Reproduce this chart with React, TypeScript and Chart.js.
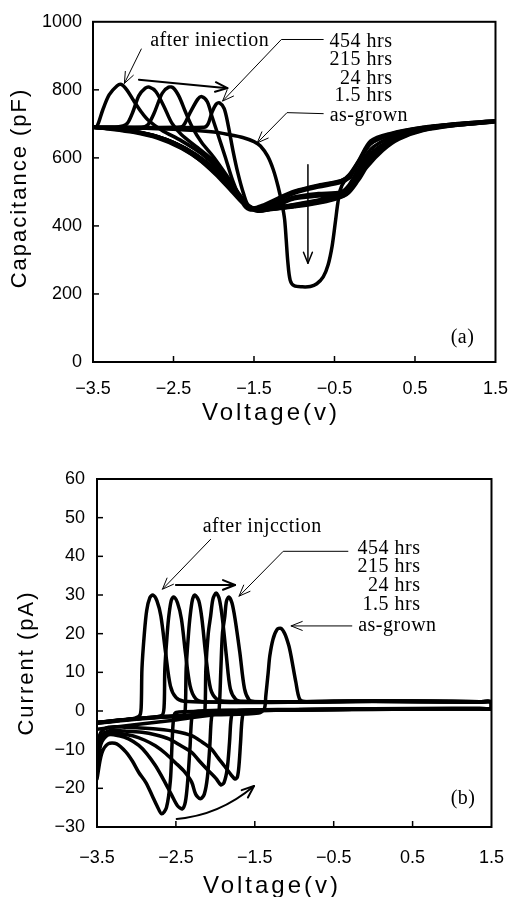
import React, { useEffect, useRef } from 'react';
import { Chart, registerables } from 'chart.js';

Chart.register(...registerables);

// ---------- series names ----------
const seriesNames = ['after injection', '1.5 hrs', '24 hrs', '215 hrs', '454 hrs', 'as-grown'];

// ---------- axis ticks ----------
const voltageTicks = { min: -3.5, max: 1.5, step: 1 };
const capTicks = { min: 0, max: 1000, step: 200 };
const curTicks = { min: -30, max: 60, step: 10 };

// ---------- (a) capacitance loops: voltage (V) / capacitance (pF) ----------
const cvInjV = [-3.5, -3.45, -3.38, -3.3, -3.2, -3.15, -3.08, -3.0, -2.9, -2.82, -2.65, -2.4, -2.15, -1.95, -1.75, -1.6, -1.5, -1.4, -1.2, -1.0, -0.7, -0.42, -0.32, -0.2, -0.05, 0.2, 0.6, 1.0, 1.5, 1.0, 0.6, 0.3, 0.1, -0.1, -0.2, -0.35, -0.6, -1.0, -1.3, -1.45, -1.58, -1.75, -1.95, -2.15, -2.4, -2.7, -3.0, -3.3, -3.5];
const cvInjC = [690, 693, 740, 785, 812, 816, 800, 770, 735, 712, 682, 650, 612, 568, 508, 465, 450, 456, 476, 496, 514, 528, 545, 588, 642, 668, 688, 699, 708, 697, 685, 662, 630, 582, 546, 500, 478, 460, 450, 446, 460, 505, 555, 595, 633, 662, 678, 686, 690];

const cv15V = [-3.5, -3.2, -3.08, -3.01, -2.93, -2.85, -2.8, -2.72, -2.62, -2.52, -2.4, -2.2, -2.0, -1.8, -1.62, -1.52, -1.4, -1.2, -1.0, -0.7, -0.42, -0.32, -0.2, -0.05, 0.2, 0.6, 1.0, 1.5, 1.0, 0.6, 0.3, 0.1, -0.1, -0.2, -0.35, -0.6, -1.0, -1.3, -1.45, -1.58, -1.75, -1.95, -2.15, -2.4, -2.7, -3.0, -3.3, -3.5];
const cv15C = [690, 691, 700, 732, 783, 805, 808, 795, 752, 702, 668, 630, 590, 530, 474, 453, 460, 482, 502, 520, 533, 548, 590, 645, 670, 689, 699, 707, 696, 682, 658, 626, 578, 540, 496, 475, 458, 449, 444, 455, 498, 548, 590, 628, 658, 675, 685, 690];

const cv24V = [-3.5, -2.9, -2.82, -2.74, -2.64, -2.56, -2.5, -2.43, -2.36, -2.27, -2.15, -2.0, -1.82, -1.65, -1.55, -1.4, -1.2, -1.0, -0.7, -0.42, -0.32, -0.2, -0.05, 0.2, 0.6, 1.0, 1.5, 1.0, 0.6, 0.3, 0.1, -0.1, -0.2, -0.35, -0.6, -1.0, -1.3, -1.45, -1.6, -1.78, -1.98, -2.2, -2.45, -2.75, -3.05, -3.3, -3.5];
const cv24C = [690, 690, 697, 732, 790, 808, 805, 780, 740, 692, 645, 602, 542, 482, 456, 452, 468, 485, 495, 500, 520, 570, 625, 660, 686, 697, 706, 695, 680, 655, 622, 572, 535, 492, 472, 456, 448, 445, 462, 508, 560, 605, 640, 666, 680, 687, 690];

const cv215V = [-3.5, -2.45, -2.38, -2.3, -2.2, -2.15, -2.08, -2.02, -1.95, -1.86, -1.76, -1.64, -1.56, -1.45, -1.2, -1.0, -0.7, -0.42, -0.32, -0.2, -0.05, 0.2, 0.6, 1.0, 1.5, 1.0, 0.6, 0.3, 0.1, -0.1, -0.2, -0.35, -0.6, -1.0, -1.3, -1.45, -1.6, -1.78, -1.98, -2.2, -2.45, -2.75, -3.05, -3.3, -3.5];
const cv215C = [690, 690, 694, 730, 772, 780, 765, 720, 670, 605, 530, 466, 448, 450, 478, 500, 518, 532, 550, 592, 650, 672, 690, 700, 709, 698, 684, 660, 628, 578, 540, 494, 474, 458, 448, 443, 458, 502, 552, 598, 636, 664, 679, 686, 690];

const cv454V = [-3.5, -2.12, -2.07, -2.02, -1.97, -1.93, -1.87, -1.82, -1.76, -1.7, -1.63, -1.56, -1.45, -1.2, -1.0, -0.7, -0.42, -0.32, -0.2, -0.05, 0.2, 0.6, 1.0, 1.5, 1.0, 0.6, 0.3, 0.1, -0.1, -0.2, -0.35, -0.6, -1.0, -1.3, -1.45, -1.55, -1.7, -1.9, -2.1, -2.35, -2.6, -2.9, -3.2, -3.5];
const cv454C = [690, 690, 700, 735, 758, 762, 745, 695, 620, 555, 495, 455, 448, 462, 480, 488, 495, 515, 560, 612, 652, 686, 697, 706, 696, 686, 665, 638, 592, 556, 508, 482, 463, 452, 447, 456, 492, 546, 590, 628, 655, 673, 684, 690];

const cvGrownV = [-3.5, -3.0, -2.5, -2.0, -1.8, -1.64, -1.5, -1.42, -1.33, -1.26, -1.2, -1.15, -1.12, -1.1, -1.08, -1.05, -1.0, -0.9, -0.8, -0.72, -0.64, -0.58, -0.53, -0.49, -0.46, -0.43, -0.38, -0.3, -0.2, -0.05, 0.2, 0.6, 1.0, 1.5, 1.0, 0.6, 0.3, 0.1, -0.1, -0.2, -0.35, -0.6, -1.0, -1.3, -1.45, -1.58, -1.75, -1.95, -2.15, -2.4, -2.7, -3.0, -3.3, -3.5];
const cvGrownC = [690, 688, 684, 676, 668, 660, 648, 635, 605, 565, 515, 462, 420, 360, 295, 240, 224, 221, 222, 230, 250, 285, 340, 410, 465, 505, 530, 545, 588, 642, 668, 688, 700, 708, 698, 686, 664, 634, 584, 548, 503, 480, 462, 451, 447, 462, 506, 556, 596, 634, 663, 679, 687, 690];

// ---------- (b) current loops: voltage (V) / current (pA) ----------
const ivInjV = [-3.5, -3.3, -3.05, -2.96, -2.94, -2.93, -2.9, -2.87, -2.83, -2.79, -2.74, -2.69, -2.63, -2.57, -2.5, -2.4, -2.0, -1.0, 0.0, 1.0, 1.35, 1.5, 1.5, 1.35, 1.0, 0.0, -1.0, -2.0, -2.5, -2.53, -2.55, -2.57, -2.62, -2.68, -2.74, -2.8, -2.88, -2.97, -3.05, -3.13, -3.25, -3.36, -3.44, -3.5];
const ivInjI = [-3, -2.5, -2, -1.2, 1, 11, 20, 26, 29.3, 30, 28.5, 24.5, 15, 6.5, 3.5, 2.5, 2.3, 2.4, 2.6, 2.5, 2.4, 2.4, 0.6, 0.6, 0.6, 0.5, 0.3, -0.2, -0.4, -2, -9, -18, -25, -26.6, -24.5, -21.9, -18.5, -15.9, -13, -10.7, -8.5, -8.5, -11, -17.6];

const iv15V = [-3.5, -3.2, -2.9, -2.68, -2.65, -2.64, -2.61, -2.59, -2.56, -2.53, -2.48, -2.43, -2.38, -2.32, -2.25, -2.15, -1.5, -0.5, 0.5, 1.35, 1.5, 1.5, 1.35, 1.0, 0.0, -1.0, -1.8, -2.27, -2.3, -2.32, -2.35, -2.38, -2.42, -2.48, -2.55, -2.65, -2.76, -2.87, -2.97, -3.1, -3.22, -3.36, -3.45, -3.5];
const iv15I = [-3.2, -2.4, -1.8, -1.2, 1, 10.9, 20, 24.5, 28.5, 29.5, 28, 23.8, 15.2, 6.5, 3.2, 2.4, 2.2, 2.5, 2.4, 2.3, 2.3, 0.7, 0.7, 0.7, 0.6, 0.4, 0.2, -0.2, -2, -9, -18, -23.5, -25.3, -24.5, -21.9, -18, -14.1, -11, -8.9, -7.2, -6.4, -6.2, -8.5, -15];

const iv24V = [-3.5, -3.2, -2.8, -2.5, -2.4, -2.38, -2.37, -2.34, -2.32, -2.29, -2.26, -2.21, -2.17, -2.12, -2.06, -1.98, -1.88, -1.0, 0.0, 1.0, 1.35, 1.5, 1.5, 1.35, 1.0, 0.0, -1.0, -1.7, -2.02, -2.05, -2.07, -2.1, -2.14, -2.19, -2.25, -2.3, -2.4, -2.51, -2.63, -2.76, -2.9, -3.05, -3.2, -3.34, -3.44, -3.5];
const iv24I = [-3, -2.3, -1.6, -1.2, -1, 1, 10.9, 20, 24.5, 28.8, 30, 28.5, 23.8, 14.2, 5.7, 3, 2.5, 2.3, 2.5, 2.4, 2.3, 2.3, 0.6, 0.6, 0.6, 0.5, 0.3, 0.1, -0.2, -2, -9, -17, -21.5, -22.7, -21.5, -18.4, -15.5, -13.3, -11, -9, -7.5, -6.4, -5.8, -5.5, -7.5, -13];

const iv215V = [-3.5, -3.2, -2.8, -2.4, -2.15, -2.13, -2.12, -2.09, -2.06, -2.03, -1.99, -1.95, -1.91, -1.86, -1.81, -1.74, -1.65, -1.0, 0.0, 1.0, 1.35, 1.5, 1.5, 1.35, 1.0, 0.0, -1.0, -1.5, -1.77, -1.8, -1.82, -1.85, -1.89, -1.93, -1.99, -2.09, -2.2, -2.3, -2.45, -2.59, -2.75, -2.93, -3.15, -3.34, -3.44, -3.5];
const iv215I = [-3.2, -2.5, -1.8, -1.2, -0.8, 1, 10.9, 20, 24.5, 29, 30.5, 29, 23.8, 14.2, 5.7, 3, 2.5, 2.3, 2.6, 2.4, 2.3, 2.3, 0.6, 0.6, 0.6, 0.5, 0.3, 0.2, -0.2, -2, -8, -15, -18.5, -19.1, -17.5, -15.4, -13, -10.7, -8.8, -7.2, -6.2, -5.5, -5.2, -5.1, -6.5, -11];

const iv454V = [-3.5, -3.2, -2.8, -2.3, -1.97, -1.95, -1.93, -1.91, -1.88, -1.86, -1.83, -1.79, -1.75, -1.69, -1.63, -1.57, -1.5, -1.0, 0.0, 1.0, 1.35, 1.5, 1.5, 1.35, 1.0, 0.0, -1.0, -1.4, -1.63, -1.66, -1.68, -1.7, -1.72, -1.75, -1.8, -1.89, -1.97, -2.05, -2.17, -2.3, -2.5, -2.72, -2.95, -3.13, -3.35, -3.45, -3.5];
const iv454I = [-3, -2.4, -1.7, -1.0, -0.6, 1, 10.9, 20, 24.5, 28.3, 29.5, 28, 23.8, 15.2, 5.7, 2.8, 2.4, 2.3, 2.5, 2.4, 2.3, 2.3, 0.6, 0.6, 0.6, 0.5, 0.3, 0.2, -0.2, -2, -8, -14, -17, -17.6, -16.5, -14.1, -12, -9.8, -8, -6.4, -5.3, -4.7, -4.4, -4.2, -4.2, -5.5, -9];

const ivGrownV = [-3.5, -3.0, -2.0, -1.45, -1.38, -1.36, -1.33, -1.31, -1.27, -1.22, -1.17, -1.12, -1.07, -1.04, -0.98, -0.93, -0.85, 0.0, 1.0, 1.35, 1.5, 1.5, 1.35, 1.0, 0.0, -1.0, -1.6, -2.5, -3.5];
const ivGrownI = [-3, -2, -1, -0.5, 0.5, 4, 10, 14.2, 18.5, 21, 21.4, 20, 17, 14.2, 7.5, 3, 2.4, 2.6, 2.5, 2.4, 2.4, 0.6, 0.6, 0.6, 0.4, 0.2, 0, -2.3, -4.7];

// ---------- annotation labels ----------
const hrsLabels = ['454 hrs', '215 hrs', '24 hrs', '1.5 hrs'];
const grownLabel = 'as-grown';

type XY = [number, number];
type NoteLine = { pts: XY[]; width: number; head: boolean; curve?: boolean };
type NoteText = { text: string; at: XY; align: CanvasTextAlign };
type Decor = {
  lines: NoteLine[];
  texts: NoteText[];
  xTitle: string;
  yTitle: string;
  xTitlePos: XY;
  yTitlePos: XY;
};

const decorA: Decor = {
  lines: [
    { pts: [[-2.9, 920], [-3.11, 819]], width: 1, head: true },
    { pts: [[-2.93, 830], [-1.83, 805]], width: 2, head: true },
    { pts: [[-0.64, 948], [-1.16, 948], [-1.89, 767]], width: 1, head: true },
    { pts: [[-0.64, 730], [-1.09, 733], [-1.46, 644]], width: 1, head: true },
    { pts: [[-0.83, 580], [-0.83, 290]], width: 1.5, head: true },
  ],
  texts: [
    { text: 'after iniection', at: [-2.79, 945], align: 'left' },
    { text: hrsLabels[0], at: [0.22, 940], align: 'right' },
    { text: hrsLabels[1], at: [0.22, 888], align: 'right' },
    { text: hrsLabels[2], at: [0.22, 833], align: 'right' },
    { text: hrsLabels[3], at: [0.22, 782], align: 'right' },
    { text: grownLabel, at: [-0.56, 724], align: 'left' },
    { text: '(a)', at: [1.09, 72], align: 'center' },
  ],
  xTitle: 'Voltage(v)',
  yTitle: 'Capacitance (pF)',
  xTitlePos: [271, 413],
  yTitlePos: [20, 188],
};

const decorB: Decor = {
  lines: [
    { pts: [[-2.06, 44.4], [-2.67, 31.5]], width: 1, head: true },
    { pts: [[-2.5, 32.6], [-1.75, 32.6]], width: 2, head: true },
    { pts: [[-0.32, 41.3], [-1.14, 41.3], [-1.7, 29.7]], width: 1, head: true },
    { pts: [[-0.27, 22], [-1.04, 22]], width: 1, head: true },
    { pts: [[-2.49, -27.9], [-1.95, -27], [-1.51, -19.4]], width: 2, head: true, curve: true },
  ],
  texts: [
    { text: 'after injcction', at: [-2.16, 47.6], align: 'left' },
    { text: hrsLabels[0], at: [0.6, 41.9], align: 'right' },
    { text: hrsLabels[1], at: [0.6, 37.2], align: 'right' },
    { text: hrsLabels[2], at: [0.6, 32.3], align: 'right' },
    { text: hrsLabels[3], at: [0.6, 27.4], align: 'right' },
    { text: grownLabel, at: [-0.19, 22], align: 'left' },
    { text: '(b)', at: [1.14, -22.7], align: 'center' },
  ],
  xTitle: 'Voltage(v)',
  yTitle: 'Current (pA)',
  xTitlePos: [272, 452],
  yTitlePos: [27, 229],
};

function signed(v: number, digits: number): string {
  const s = Math.abs(v).toFixed(digits);
  return v < 0 ? '\u2212' + s : s;
}

function makeDecor(d: Decor) {
  return {
    id: 'decor',
    afterDraw(chart: any) {
      const ctx: CanvasRenderingContext2D = chart.ctx;
      const a = chart.chartArea;
      const xs = chart.scales.x;
      const ys = chart.scales.y;
      ctx.save();
      ctx.strokeStyle = '#000';
      ctx.fillStyle = '#000';
      ctx.lineCap = 'butt';
      // frame
      ctx.lineWidth = 2;
      ctx.strokeRect(a.left, a.top, a.right - a.left, a.bottom - a.top);
      // inward ticks
      ctx.lineWidth = 1.5;
      xs.ticks.forEach((t: any, i: number) => {
        if (i === 0 || i === xs.ticks.length - 1) return;
        const px = xs.getPixelForValue(t.value);
        ctx.beginPath();
        ctx.moveTo(px, a.bottom);
        ctx.lineTo(px, a.bottom - 6);
        ctx.stroke();
      });
      ys.ticks.forEach((t: any, i: number) => {
        if (i === 0 || i === ys.ticks.length - 1) return;
        const py = ys.getPixelForValue(t.value);
        ctx.beginPath();
        ctx.moveTo(a.left, py);
        ctx.lineTo(a.left + 6, py);
        ctx.stroke();
      });
      // annotation lines and arrows
      ctx.lineCap = 'round';
      ctx.lineJoin = 'round';
      for (const ln of d.lines) {
        const p = ln.pts.map(([v, y]) => [xs.getPixelForValue(v), ys.getPixelForValue(y)]);
        ctx.lineWidth = ln.width;
        ctx.beginPath();
        ctx.moveTo(p[0][0], p[0][1]);
        if (ln.curve && p.length === 3) {
          ctx.quadraticCurveTo(p[1][0], p[1][1], p[2][0], p[2][1]);
        } else {
          for (let i = 1; i < p.length; i++) ctx.lineTo(p[i][0], p[i][1]);
        }
        ctx.stroke();
        if (ln.head) {
          const n = p.length;
          const [x2, y2] = p[n - 1];
          const [x1, y1] = p[n - 2];
          const ang = Math.atan2(y2 - y1, x2 - x1);
          const L = ln.width >= 2 ? 13 : 12;
          ctx.beginPath();
          ctx.moveTo(x2 - L * Math.cos(ang - 0.38), y2 - L * Math.sin(ang - 0.38));
          ctx.lineTo(x2, y2);
          ctx.lineTo(x2 - L * Math.cos(ang + 0.38), y2 - L * Math.sin(ang + 0.38));
          ctx.stroke();
        }
      }
      // annotation texts
      ctx.font = '20px "Liberation Serif", "Times New Roman", serif';
      ctx.textBaseline = 'middle';
      (ctx as any).letterSpacing = '0.5px';
      for (const t of d.texts) {
        ctx.textAlign = t.align;
        ctx.fillText(t.text, xs.getPixelForValue(t.at[0]), ys.getPixelForValue(t.at[1]));
      }
      // axis titles
      ctx.font = '24px "Liberation Sans", Arial, sans-serif';
      (ctx as any).letterSpacing = '3px';
      ctx.textAlign = 'center';
      ctx.fillText(d.xTitle, d.xTitlePos[0], d.xTitlePos[1]);
      ctx.font = '22px "Liberation Sans", Arial, sans-serif';
      (ctx as any).letterSpacing = '2px';
      ctx.translate(d.yTitlePos[0], d.yTitlePos[1]);
      ctx.rotate(-Math.PI / 2);
      ctx.fillText(d.yTitle, 0, 0);
      (ctx as any).letterSpacing = '0px';
      ctx.restore();
    },
  };
}

function loop(label: string, xs: number[], ys: number[]) {
  return {
    label,
    data: xs.map((x, i) => ({ x, y: ys[i] })),
    showLine: true,
    borderColor: '#000',
    backgroundColor: '#000',
    borderWidth: 3.5,
    pointRadius: 0,
    tension: 0.3,
    fill: false,
    borderJoinStyle: 'round',
    borderCapStyle: 'round',
  };
}

const tickFont = { family: '"Liberation Sans", Arial, sans-serif', size: 18 };

function buildConfig(
  datasets: any[],
  yRange: { min: number; max: number; step: number },
  padding: any,
  yWidth: number,
  xHeight: number,
  xPad: number,
  yPad: number,
  decor: Decor,
): any {
  return {
    type: 'scatter',
    data: { datasets },
    options: {
      animation: false,
      responsive: false,
      layout: { padding },
      plugins: { legend: { display: false }, tooltip: { enabled: false } },
      scales: {
        x: {
          type: 'linear',
          min: voltageTicks.min,
          max: voltageTicks.max,
          grid: { display: false, drawTicks: false },
          border: { display: false },
          ticks: {
            stepSize: voltageTicks.step,
            padding: xPad,
            color: '#000',
            font: tickFont,
            maxRotation: 0,
            autoSkip: false,
            callback: (v: any) => signed(Number(v), 1),
          },
          afterFit: (s: any) => { s.height = xHeight; },
        },
        y: {
          type: 'linear',
          min: yRange.min,
          max: yRange.max,
          grid: { display: false, drawTicks: false },
          border: { display: false },
          ticks: {
            stepSize: yRange.step,
            padding: yPad,
            color: '#000',
            font: tickFont,
            autoSkip: false,
            callback: (v: any) => signed(Number(v), 0),
          },
          afterFit: (s: any) => { s.width = yWidth; },
        },
      },
    },
    plugins: [makeDecor(decor)],
  };
}

function Panel({ top, height, make }: { top: number; height: number; make: () => any }) {
  const ref = useRef<HTMLCanvasElement>(null);
  useEffect(() => {
    const chart = new Chart(ref.current as HTMLCanvasElement, make());
    return () => chart.destroy();
  }, []);
  return (
    <canvas
      ref={ref}
      width={524}
      height={height}
      style={{ position: 'absolute', left: 0, top, width: 524, height, display: 'block' }}
    />
  );
}

export default function App() {
  const makeA = () =>
    buildConfig(
      [
        loop(seriesNames[0], cvInjV, cvInjC),
        loop(seriesNames[1], cv15V, cv15C),
        loop(seriesNames[2], cv24V, cv24C),
        loop(seriesNames[3], cv215V, cv215C),
        loop(seriesNames[4], cv454V, cv454C),
        loop(seriesNames[5], cvGrownV, cvGrownC),
      ],
      capTicks,
      { left: 0, right: 16, top: 14, bottom: 0 },
      93,
      72,
      16,
      11,
      decorA,
    );
  const makeB = () =>
    buildConfig(
      [
        loop(seriesNames[0], ivInjV, ivInjI),
        loop(seriesNames[1], iv15V, iv15I),
        loop(seriesNames[2], iv24V, iv24I),
        loop(seriesNames[3], iv215V, iv215I),
        loop(seriesNames[4], iv454V, iv454I),
        loop(seriesNames[5], ivGrownV, ivGrownI),
      ],
      curTicks,
      { left: 0, right: 25, top: 45, bottom: 0 },
      97,
      70,
      20,
      12,
      decorB,
    );
  return (
    <div style={{ position: 'absolute', left: 0, top: 0, width: 524, height: 897, background: '#fff' }}>
      <Panel top={0} height={434} make={makeA} />
      <Panel top={434} height={463} make={makeB} />
    </div>
  );
}
